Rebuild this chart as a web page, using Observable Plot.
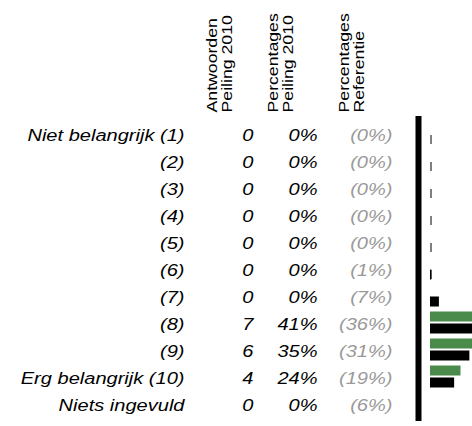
<!DOCTYPE html>
<html><head><meta charset="utf-8">
<script src="https://cdn.jsdelivr.net/npm/d3@7"></script>
<script src="https://cdn.jsdelivr.net/npm/@observablehq/plot@0.6"></script>
<style>html,body{margin:0;padding:0;background:#fff} #chart svg{overflow:hidden}</style>
</head><body><div id="chart"></div>
<script>
const labels = ["Niet belangrijk (1)", "(2)", "(3)", "(4)", "(5)", "(6)", "(7)", "(8)", "(9)", "Erg belangrijk (10)", "Niets ingevuld"];
const answers = [0, 0, 0, 0, 0, 0, 0, 7, 6, 4, 0];
const percentages = [0, 0, 0, 0, 0, 0, 0, 41, 35, 24, 0];
const reference = [0, 0, 0, 0, 0, 1, 7, 36, 31, 19, 6];
const headers = ["Antwoorden\nPeiling 2010", "Percentages\nPeiling 2010", "Percentages\nReferentie"];

const rows = labels.map((label, i) => ({label, answers: answers[i], pct: percentages[i], ref: reference[i]}));
const scaleRows = rows.slice(0, 10);

const font = "'Liberation Sans', Arial, Helvetica, sans-serif";
const green = "#4a8a4a";
const grey = "#999999";
const fs = 17;
const stretch = 1.18;

function header(i, dx) {
  return Plot.text([headers[i]], {
    text: d => d, frameAnchor: "top-left", dx, dy: -4, rotate: -90,
    textAnchor: "start", lineAnchor: "middle", fontSize: 15, lineHeight: 1.0, fill: "black"
  });
}
function column(text, dx, fill) {
  return Plot.text(rows, {y: "label", text, frameAnchor: "left", dx, dy: 2, textAnchor: "end", fontStyle: "italic", fontSize: fs, fill});
}

const plot = Plot.plot({
  width: 472, height: 426,
  marginTop: 116, marginBottom: 5, marginLeft: 0, marginRight: 0,
  style: {fontFamily: font, background: "white", color: "black"},
  x: {domain: [0, 100], range: [430, 557], axis: null},
  y: {domain: labels, axis: null, padding: 0},
  marks: [
    Plot.ruleX([0], {dx: -12, stroke: "black", strokeWidth: 6}),
    Plot.tickX(scaleRows, {y: "label", x: () => 0, dx: 0.5, stroke: "black", strokeWidth: 1, insetTop: 15, insetBottom: 3}),
    Plot.barX(scaleRows, {y: "label", x: "pct", fill: green, insetTop: 2.5, insetBottom: 14.5}),
    Plot.barX(scaleRows, {y: "label", x: "ref", fill: "black", insetTop: 14.5, insetBottom: 2.5}),
    column("label", 184, "black"),
    column(d => String(d.answers), 253, "black"),
    column(d => d.pct + "%", 317, "black"),
    column(d => "(" + d.ref + "%)", 392, grey),
    header(0, 219),
    header(1, 280),
    header(2, 351)
  ]
});
plot.querySelectorAll("text").forEach(t => {
  t.setAttribute("transform", (t.getAttribute("transform") || "") + ` scale(${stretch},1)`);
});
document.getElementById("chart").append(plot);
</script>
</body></html>
